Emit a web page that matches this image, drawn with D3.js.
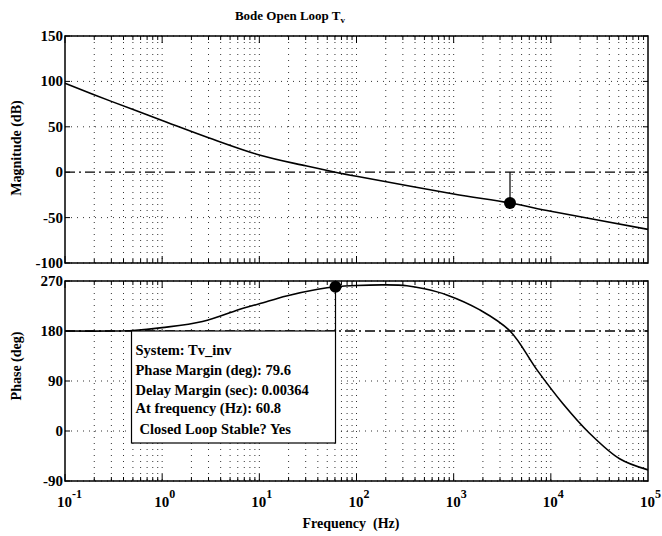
<!DOCTYPE html>
<html>
<head>
<meta charset="utf-8">
<script src="https://cdn.jsdelivr.net/npm/d3@7"></script>
<style>
  body { margin: 0; background: #fff; }
  svg text { font-family: "Liberation Serif", "Times New Roman", serif; font-weight: bold; fill: #000; }
</style>
</head>
<body>
<div id="chart"></div>
<script>
// magnitude curve (Hz, dB)
var magFreq = [0.1, 0.3, 1, 3, 10, 30, 60.8, 100, 1000, 3800, 10000, 100000];
var magDb   = [98, 78, 57, 38, 19, 7, 0, -4.5, -24, -34, -43, -63];

// phase curve (Hz, deg)
var phFreq = [0.1, 0.3, 0.5, 1, 2.6, 6.8, 10, 19, 40, 60.8, 100, 200, 330, 500, 850, 1860, 3800, 7200, 13200, 25000, 51000, 100000];
var phDeg  = [180, 180, 181, 186, 197, 221, 229, 243, 255, 259.6, 262, 263, 261.5, 256, 245, 218, 180, 110, 50, -4, -50, -70];

var magTicks = [150, 100, 50, 0, -50, -100];
var phTicks = [270, 180, 90, 0, -90];
var decades = [-1, 0, 1, 2, 3, 4, 5];

// margins marked on the plot
var gmFreq = 3800, gmDb = -34;
var pmFreq = 60.8, pmDeg = 259.6;
var infoLines = ["System: Tv_inv", "Phase Margin (deg): 79.6", "Delay Margin (sec): 0.00364", "At frequency (Hz): 60.8", "Closed Loop Stable? Yes"];

var W = 662, H = 536;
var left = 65, right = 648;

var svg = d3.select('#chart').append('svg')
  .attr('width', W).attr('height', H);

var x = d3.scaleLog().domain([0.1, 1e5]).range([left, right]);
var yM = d3.scaleLinear().domain([-100, 150]).range([263, 36]);
var yP = d3.scaleLinear().domain([-90, 270]).range([481, 281]);

// every 1..9 x 10^k frequency for grid and minor ticks
var gridFreqs = [];
for (var k = -1; k < 5; k++) {
  for (var m = 1; m < 10; m++) gridFreqs.push(m * Math.pow(10, k));
}

function panel(y, ticks, refVal) {
  var g = svg.append('g');
  var y0 = y.range()[0], y1 = y.range()[1];

  // vertical dotted grid
  g.selectAll('.vg').data(gridFreqs.filter(f => f > 0.1)).enter().append('line')
    .attr('x1', d => x(d)).attr('x2', d => x(d))
    .attr('y1', y1).attr('y2', y0)
    .attr('stroke', '#333').attr('stroke-width', 1)
    .attr('stroke-dasharray', '1,5');

  // horizontal grid at major ticks
  g.selectAll('.hg').data(ticks.filter(t => t !== refVal)).enter().append('line')
    .attr('x1', left).attr('x2', right)
    .attr('y1', d => y(d)).attr('y2', d => y(d))
    .attr('stroke', '#333').attr('stroke-width', 1)
    .attr('stroke-dasharray', '1,5');

  // dash-dot reference line
  g.append('line')
    .attr('x1', left).attr('x2', right)
    .attr('y1', y(refVal)).attr('y2', y(refVal))
    .attr('stroke', '#000').attr('stroke-width', 1.3)
    .attr('stroke-dasharray', '10,4,2,4');

  // minor ticks top / bottom
  gridFreqs.forEach(function(f) {
    var len = (Math.abs(Math.log10(f) - Math.round(Math.log10(f))) < 1e-9) ? 7 : 4;
    g.append('line').attr('x1', x(f)).attr('x2', x(f)).attr('y1', y0).attr('y2', y0 - len)
      .attr('stroke', '#000');
    g.append('line').attr('x1', x(f)).attr('x2', x(f)).attr('y1', y1).attr('y2', y1 + len)
      .attr('stroke', '#000');
  });

  // y ticks + labels
  ticks.forEach(function(t) {
    g.append('line').attr('x1', left).attr('x2', left + 5).attr('y1', y(t)).attr('y2', y(t)).attr('stroke', '#000');
    g.append('line').attr('x1', right).attr('x2', right - 5).attr('y1', y(t)).attr('y2', y(t)).attr('stroke', '#000');
    g.append('text')
      .attr('x', left - 2).attr('y', y(t) + 5)
      .attr('text-anchor', 'end')
      .style('font-size', '15px')
      .text(t);
  });

  // frame
  g.append('rect')
    .attr('x', left).attr('y', y1)
    .attr('width', right - left).attr('height', y0 - y1)
    .attr('fill', 'none').attr('stroke', '#000').attr('stroke-width', 1.5);
  return g;
}

panel(yM, magTicks, 0);
panel(yP, phTicks, 180);

// curves
var magLine = d3.line().x(d => x(d[0])).y(d => yM(d[1])).curve(d3.curveCatmullRom.alpha(0.5));
var phLine = d3.line().x(d => x(d[0])).y(d => yP(d[1])).curve(d3.curveCatmullRom.alpha(0.5));

svg.append('path')
  .datum(d3.zip(magFreq, magDb))
  .attr('d', magLine)
  .attr('fill', 'none').attr('stroke', '#000').attr('stroke-width', 1.6);

svg.append('path')
  .datum(d3.zip(phFreq, phDeg))
  .attr('d', phLine)
  .attr('fill', 'none').attr('stroke', '#000').attr('stroke-width', 1.6);

// gain margin marker
svg.append('line')
  .attr('x1', x(gmFreq)).attr('x2', x(gmFreq))
  .attr('y1', yM(0)).attr('y2', yM(gmDb))
  .attr('stroke', '#000').attr('stroke-width', 1.2);
svg.append('circle')
  .attr('cx', x(gmFreq)).attr('cy', yM(gmDb)).attr('r', 6)
  .attr('fill', '#000');

// phase margin marker + info box
var boxRight = x(pmFreq), boxTop = yP(180);
var boxW = 204, boxH = 112;
svg.append('rect')
  .attr('x', boxRight - boxW).attr('y', boxTop)
  .attr('width', boxW).attr('height', boxH)
  .attr('fill', '#fff').attr('stroke', '#000').attr('stroke-width', 1.2);
svg.append('line')
  .attr('x1', x(pmFreq)).attr('x2', x(pmFreq))
  .attr('y1', yP(pmDeg)).attr('y2', boxTop)
  .attr('stroke', '#000').attr('stroke-width', 1.2);
svg.append('circle')
  .attr('cx', x(pmFreq)).attr('cy', yP(pmDeg)).attr('r', 6)
  .attr('fill', '#000');

var lineY = [24, 44, 64, 82, 103];
svg.selectAll('.info').data(infoLines).enter().append('text')
  .attr('x', (d, i) => boxRight - boxW + (i === 4 ? 8 : 4))
  .attr('y', (d, i) => boxTop + lineY[i])
  .style('font-size', '14.5px')
  .text(d => d);

// x tick labels 10^k
decades.forEach(function(k) {
  var t = svg.append('text')
    .attr('x', x(Math.pow(10, k)) - 8).attr('y', 507)
    .style('font-size', '15px');
  t.append('tspan').text('10');
  t.append('tspan').attr('dy', -9).style('font-size', '12px').text(k);
});

// title and axis labels
var title = svg.append('text')
  .attr('x', 290).attr('y', 20)
  .attr('text-anchor', 'middle')
  .style('font-size', '13px');
title.append('tspan').text('Bode Open Loop T');
title.append('tspan').attr('dy', 3).style('font-size', '9px').text('v');

svg.append('text')
  .attr('x', 351).attr('y', 528)
  .attr('text-anchor', 'middle')
  .style('font-size', '14px')
  .style('white-space', 'pre')
  .text('Frequency  (Hz)');

svg.append('text')
  .attr('transform', 'translate(21,148) rotate(-90)')
  .attr('text-anchor', 'middle')
  .style('font-size', '14px')
  .text('Magnitude (dB)');

svg.append('text')
  .attr('transform', 'translate(21,366) rotate(-90)')
  .attr('text-anchor', 'middle')
  .style('font-size', '14px')
  .text('Phase (deg)');
</script>
</body>
</html>
